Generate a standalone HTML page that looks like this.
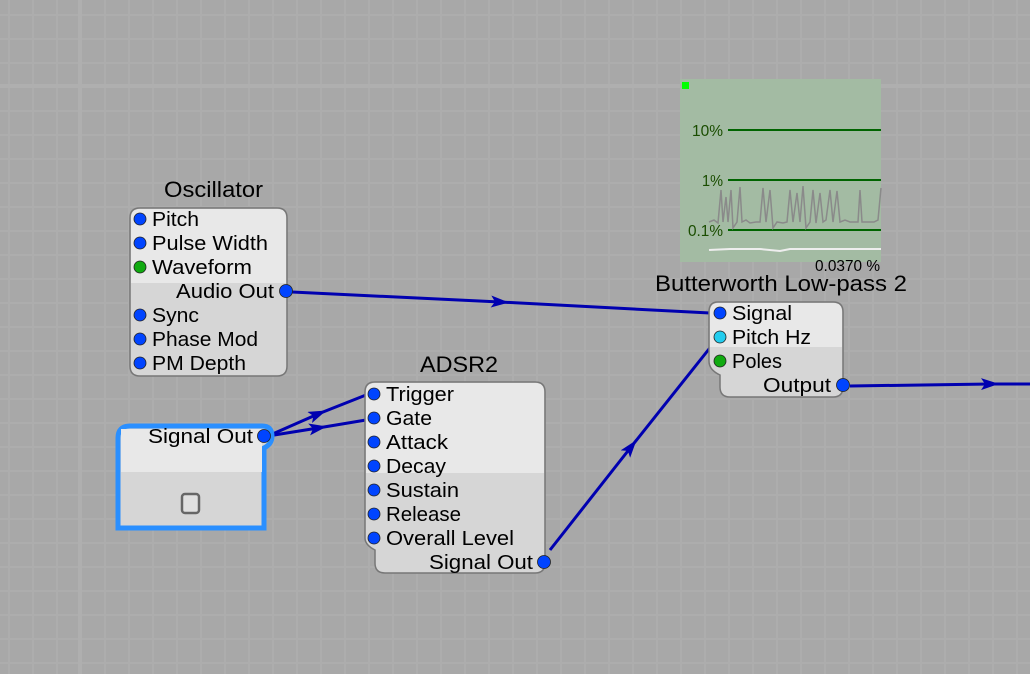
<!DOCTYPE html>
<html><head><style>
html,body{margin:0;padding:0;width:1030px;height:674px;overflow:hidden;background:#a9a9a9}
svg{display:block}
text{font-family:"Liberation Sans",sans-serif;fill:#000}
</style></head><body>
<svg width="1030" height="674" viewBox="0 0 1030 674" xmlns="http://www.w3.org/2000/svg">
<defs>
<pattern id="g" x="8" y="14" width="24" height="24" patternUnits="userSpaceOnUse">
<rect width="24" height="24" fill="#a8a8a8"/>
<rect width="2" height="24" fill="#adadad"/><rect width="24" height="2" fill="#adadad"/>
</pattern>
<marker id="ar" markerWidth="18" markerHeight="12" refX="9" refY="6" orient="auto" markerUnits="userSpaceOnUse">
<path d="M0,0 L18,6 L0,12 L4,6 z" fill="#0000b0"/>
</marker>
</defs>
<rect width="1030" height="674" fill="url(#g)"/>
<rect x="78" y="0" width="4" height="674" fill="#afafaf"/>
<rect x="0" y="84" width="1030" height="4" fill="#afafaf"/>

<!-- graph -->
<rect x="680" y="79" width="201" height="183" fill="#a3bba3"/>
<rect x="682" y="82" width="7" height="7" fill="#00ff00"/>
<g stroke="#006400" stroke-width="2">
<line x1="728" y1="130" x2="881" y2="130"/><line x1="728" y1="180" x2="881" y2="180"/><line x1="728" y1="230" x2="881" y2="230"/>
</g>
<g font-size="16" lengthAdjust="spacingAndGlyphs">
<text x="692" y="136" textLength="31" lengthAdjust="spacingAndGlyphs" style="fill:#1a4d00">10%</text>
<text x="702" y="186" textLength="21" lengthAdjust="spacingAndGlyphs" style="fill:#1a4d00">1%</text>
<text x="688" y="236" textLength="35" lengthAdjust="spacingAndGlyphs" style="fill:#1a4d00">0.1%</text>
</g>
<polyline fill="none" stroke="#8a8a8a" stroke-width="1.5" points="709,222 714,220 718,223 721,190 723,222 726,197 728,222 731,190 733,228 737,222 740,187 742,222 746,220 750,223 756,222 760,222 763,188 766,222 770,190 773,228 777,222 783,223 787,222 790,190 793,222 797,193 800,222 803,186 806,228 810,222 813,190 816,223 820,193 823,222 826,220 830,190 833,222 837,191 840,222 845,220 850,222 858,222 860,190 862,222 868,222 874,222 878,220 881,188"/>
<polyline fill="none" stroke="#eeeeee" stroke-width="2" points="709,250 730,249 760,249 780,251 790,249 810,249 830,249 850,249 881,249"/>
<text x="815" y="271" font-size="16" textLength="65" lengthAdjust="spacingAndGlyphs">0.0370 %</text>

<!-- wires -->
<g stroke="#0000b0" stroke-width="3" fill="none">
<polyline points="292,292 500,302 710,313" marker-mid="url(#ar)"/>
<polyline points="268,436 318,414 366,395" marker-mid="url(#ar)"/>
<polyline points="268,436 318,428 366,420" marker-mid="url(#ar)"/>
<polyline points="550,550 631,447 713,344" marker-mid="url(#ar)"/>
<polyline points="850,386 990,384 1030,384" marker-mid="url(#ar)"/>
</g>

<!-- Oscillator -->
<text x="164" y="197" font-size="22" textLength="99" lengthAdjust="spacingAndGlyphs">Oscillator</text>
<path d="M140,208 H277 Q287,208 287,218 V366 Q287,376 277,376 H140 Q130,376 130,366 V218 Q130,208 140,208z" fill="#d6d6d6" stroke="#777" stroke-width="1.5"/>
<path d="M141,209 H277 Q286,209 286,218 V283 H131 V218 Q131,209 141,209z" fill="#e8e8e8"/>
<g fill="#0044ff" stroke="#222" stroke-width="0.8">
<circle cx="140" cy="219" r="6"/><circle cx="140" cy="243" r="6"/><circle cx="140" cy="267" r="6" fill="#11aa11"/>
<circle cx="286" cy="291" r="6.5"/><circle cx="140" cy="315" r="6"/><circle cx="140" cy="339" r="6"/><circle cx="140" cy="363" r="6"/>
</g>
<g font-size="20">
<text x="152" y="226" textLength="47" lengthAdjust="spacingAndGlyphs">Pitch</text><text x="152" y="250" textLength="116" lengthAdjust="spacingAndGlyphs">Pulse Width</text><text x="152" y="274" textLength="100" lengthAdjust="spacingAndGlyphs">Waveform</text>
<text x="176" y="298" textLength="98" lengthAdjust="spacingAndGlyphs">Audio Out</text>
<text x="152" y="322" textLength="47" lengthAdjust="spacingAndGlyphs">Sync</text><text x="152" y="346" textLength="106" lengthAdjust="spacingAndGlyphs">Phase Mod</text><text x="152" y="370" textLength="94" lengthAdjust="spacingAndGlyphs">PM Depth</text>
</g>

<!-- Signal Out node -->
<path d="M130,426 H262 Q272,426 272,436 Q272,444 264,448 V528 H118 V438 Q118,426 130,426z" fill="#d6d6d6" stroke="#2a8fff" stroke-width="5"/>
<rect x="121" y="429" width="141" height="43" fill="#e8e8e8"/>
<circle cx="264" cy="436" r="6.5" fill="#0044ff" stroke="#222" stroke-width="0.8"/>
<text x="148" y="443" font-size="20" textLength="105" lengthAdjust="spacingAndGlyphs">Signal Out</text>
<rect x="182" y="494" width="17" height="19" rx="3" fill="#e0e0e0" stroke="#666" stroke-width="2.5"/>

<!-- ADSR2 -->
<text x="420" y="372" font-size="22" textLength="78" lengthAdjust="spacingAndGlyphs">ADSR2</text>
<path d="M382,382 H535 Q545,382 545,392 V563 Q545,573 535,573 H385 Q375,573 375,563 V550 Q365,545 365,538 V392 Q365,382 375,382z" fill="#d6d6d6" stroke="#777" stroke-width="1.5"/>
<path d="M376,383 H535 Q544,383 544,392 V473 H366 V392 Q366,383 376,383z" fill="#e8e8e8"/>
<g fill="#0044ff" stroke="#222" stroke-width="0.8">
<circle cx="374" cy="394" r="6"/><circle cx="374" cy="418" r="6"/><circle cx="374" cy="442" r="6"/><circle cx="374" cy="466" r="6"/>
<circle cx="374" cy="490" r="6"/><circle cx="374" cy="514" r="6"/><circle cx="374" cy="538" r="6"/><circle cx="544" cy="562" r="6.5"/>
</g>
<g font-size="20">
<text x="386" y="401" textLength="68" lengthAdjust="spacingAndGlyphs">Trigger</text><text x="386" y="425" textLength="46" lengthAdjust="spacingAndGlyphs">Gate</text><text x="386" y="449" textLength="62" lengthAdjust="spacingAndGlyphs">Attack</text><text x="386" y="473" textLength="60" lengthAdjust="spacingAndGlyphs">Decay</text>
<text x="386" y="497" textLength="73" lengthAdjust="spacingAndGlyphs">Sustain</text><text x="386" y="521" textLength="75" lengthAdjust="spacingAndGlyphs">Release</text><text x="386" y="545" textLength="128" lengthAdjust="spacingAndGlyphs">Overall Level</text>
<text x="429" y="569" textLength="104" lengthAdjust="spacingAndGlyphs">Signal Out</text>
</g>

<!-- Butterworth -->
<text x="655" y="291" font-size="22" textLength="252" lengthAdjust="spacingAndGlyphs">Butterworth Low-pass 2</text>
<path d="M718,302 H833 Q843,302 843,312 V387 Q843,397 833,397 H730 Q720,397 720,387 V375 Q709,370 709,361 V312 Q709,302 718,302z" fill="#d6d6d6" stroke="#777" stroke-width="1.5"/>
<path d="M719,303 H833 Q842,303 842,312 V347 H710 V312 Q710,303 719,303z" fill="#e8e8e8"/>
<g fill="#0044ff" stroke="#222" stroke-width="0.8">
<circle cx="720" cy="313" r="6"/><circle cx="720" cy="337" r="6" fill="#22ccee"/><circle cx="720" cy="361" r="6" fill="#11aa11"/><circle cx="843" cy="385" r="6.5"/>
</g>
<g font-size="20">
<text x="732" y="320" textLength="60" lengthAdjust="spacingAndGlyphs">Signal</text><text x="732" y="344" textLength="79" lengthAdjust="spacingAndGlyphs">Pitch Hz</text><text x="732" y="368" textLength="50" lengthAdjust="spacingAndGlyphs">Poles</text>
<text x="763" y="392" textLength="68" lengthAdjust="spacingAndGlyphs">Output</text>
</g>
</svg>
</body></html>
